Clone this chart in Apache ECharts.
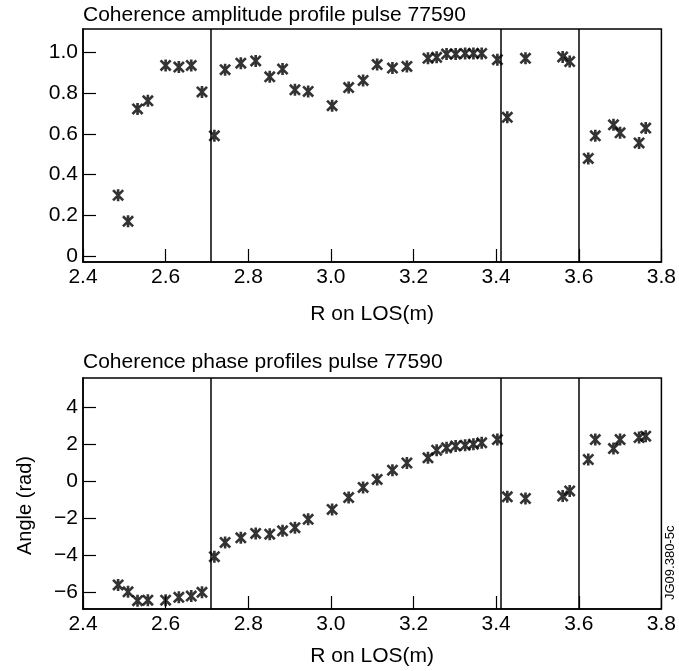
<!DOCTYPE html>
<html>
<head>
<meta charset="utf-8">
<script src="https://cdn.jsdelivr.net/npm/echarts@6/dist/echarts.min.js"></script>
<style>
  html, body { margin: 0; padding: 0; background: #fff; }
  #chart { width: 679px; height: 671px; }
</style>
</head>
<body>
<div id="chart"></div>
<script>
// major radius along the line of sight (m), shared by both panels
var rLos = [2.485, 2.509, 2.532, 2.557, 2.600, 2.632, 2.662, 2.688, 2.718, 2.744,
            2.782, 2.818, 2.852, 2.883, 2.913, 2.945, 3.003, 3.043, 3.078, 3.112,
            3.149, 3.184, 3.235, 3.256, 3.280, 3.302, 3.325, 3.345, 3.365, 3.403,
            3.427, 3.471, 3.561, 3.578, 3.623, 3.640, 3.684, 3.700, 3.746, 3.762];
var amplitude = [0.298, 0.170, 0.722, 0.762, 0.936, 0.928, 0.936, 0.806, 0.590, 0.915,
                 0.947, 0.958, 0.880, 0.918, 0.816, 0.808, 0.738, 0.827, 0.862, 0.940,
                 0.923, 0.931, 0.971, 0.976, 0.992, 0.992, 0.995, 0.995, 0.995, 0.964,
                 0.681, 0.971, 0.978, 0.955, 0.479, 0.590, 0.644, 0.605, 0.555, 0.628];
var phase = [-5.60, -5.97, -6.45, -6.42, -6.42, -6.27, -6.20, -6.00, -4.07, -3.30,
             -3.05, -2.81, -2.85, -2.67, -2.50, -2.05, -1.51, -0.87, -0.32, 0.11,
             0.61, 1.00, 1.28, 1.69, 1.82, 1.92, 1.96, 2.02, 2.09, 2.27,
             -0.83, -0.92, -0.79, -0.51, 1.19, 2.27, 1.78, 2.27, 2.38, 2.45];
var dividers = [2.708, 3.413, 3.603];
var xTicks = [2.4, 2.6, 2.8, 3.0, 3.2, 3.4, 3.6, 3.8];
var ampTicks = [0, 0.2, 0.4, 0.6, 0.8, 1.0];
var phaseTicks = [-6, -4, -2, 0, 2, 4];

var FONT = "'Liberation Sans', Arial, Helvetica, sans-serif";
// six-armed asterisk marker (vertical bar + two diagonals), heavy strokes
var STAR = 'path://M39 0L61 0L61 100L39 100Z' +
           'M0 15.5L15.5 0L100 84.5L84.5 100Z' +
           'M84.5 0L100 15.5L15.5 100L0 84.5Z';

function pairs(ys) {
    var out = [];
    for (var i = 0; i < rLos.length; i++) out.push([rLos[i], ys[i]]);
    return out;
}

function xAxis(idx, gap) {
    return {
        type: 'value', gridIndex: idx, min: 2.4, max: 3.8,
        name: 'R on LOS(m)', nameLocation: 'middle', nameGap: gap,
        nameTextStyle: { fontFamily: FONT, fontSize: 21, color: '#000' },
        axisLine: { onZero: false, lineStyle: { color: '#000', width: 1.5 } },
        axisTick: { inside: true, length: 13, customValues: xTicks, lineStyle: { color: '#000', width: 1.2 } },
        axisLabel: { customValues: xTicks, margin: 5, fontFamily: FONT, fontSize: 21, color: '#000',
                     formatter: function (v) { return v.toFixed(1); } },
        splitLine: { show: false }
    };
}

function yAxis(idx, min, max, ticks, fmt, name) {
    return {
        type: 'value', gridIndex: idx, min: min, max: max,
        name: name, nameLocation: 'middle', nameGap: 48,
        nameTextStyle: { fontFamily: FONT, fontSize: 20, color: '#000', padding: [0, 24, 0, 0] },
        axisLine: { onZero: false, lineStyle: { color: '#000', width: 1.5 } },
        axisTick: { inside: true, length: 13, customValues: ticks, lineStyle: { color: '#000', width: 1.2 } },
        axisLabel: { customValues: ticks, margin: 5, fontFamily: FONT, fontSize: 21, color: '#000', formatter: fmt },
        splitLine: { show: false }
    };
}

function scatter(idx, ys) {
    return {
        type: 'scatter', xAxisIndex: idx, yAxisIndex: idx,
        data: pairs(ys), symbol: STAR, symbolSize: 12,
        itemStyle: { color: '#000' },
        markLine: {
            silent: true, symbol: 'none', animation: false,
            label: { show: false },
            lineStyle: { color: '#000', width: 1.5, type: 'solid' },
            data: dividers.map(function (d) { return { xAxis: d }; })
        }
    };
}

var chart = echarts.init(document.getElementById('chart'));
chart.setOption({
    animation: false,
    backgroundColor: '#fff',
    title: [
        { text: 'Coherence amplitude profile pulse 77590', left: 78, top: 0,
          textStyle: { fontFamily: FONT, fontSize: 21, fontWeight: 'normal', color: '#000' } },
        { text: 'Coherence phase profiles pulse 77590', left: 78, top: 347,
          textStyle: { fontFamily: FONT, fontSize: 21, fontWeight: 'normal', color: '#000' } }
    ],
    grid: [
        { left: 83, top: 29, width: 581, height: 233, show: true, borderColor: '#000', borderWidth: 1.5 },
        { left: 83, top: 378, width: 581, height: 231, show: true, borderColor: '#000', borderWidth: 1.5 }
    ],
    xAxis: [xAxis(0, 42), xAxis(1, 37)],
    yAxis: [
        yAxis(0, -0.03, 1.115, ampTicks, function (v) { return v === 0 ? '0' : v.toFixed(1); }, ''),
        yAxis(1, -6.9, 5.6, phaseTicks, function (v) { return v < 0 ? '\u2212' + Math.abs(v) : String(v); }, 'Angle (rad)')
    ],
    series: [scatter(0, amplitude), scatter(1, phase)],
    graphic: [
        { type: 'text', x: 664, y: 600, rotation: Math.PI / 2,
          style: { text: 'JG09.380-5c', fontFamily: FONT, fontSize: 13, fill: '#000' } }
    ]
});
</script>
</body>
</html>
